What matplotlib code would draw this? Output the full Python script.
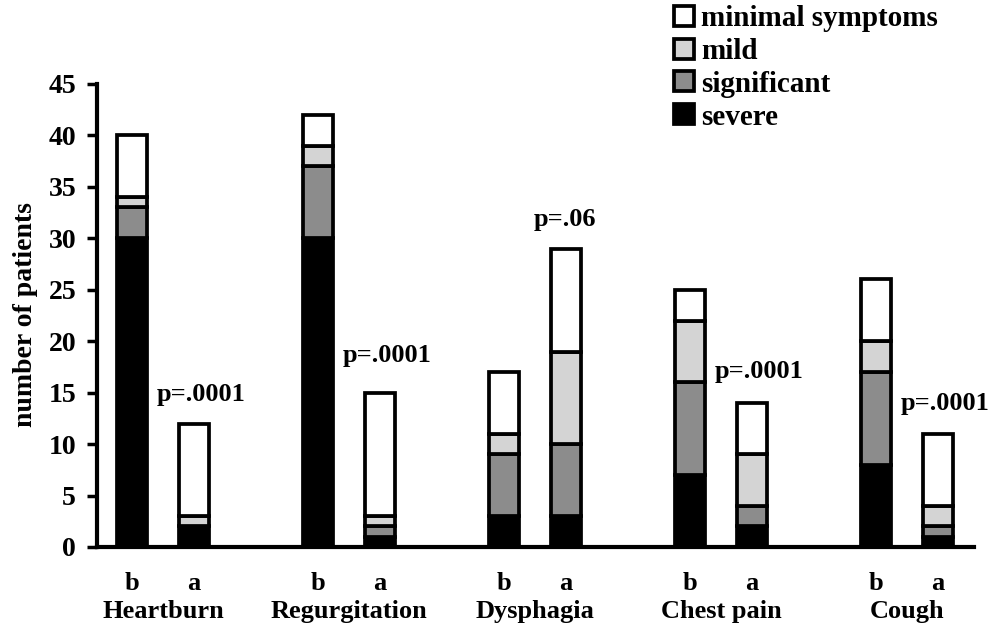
import matplotlib
matplotlib.use("Agg")
import matplotlib.pyplot as plt

plt.rcParams['font.family'] = ['Liberation Serif', 'DejaVu Serif']
plt.rcParams['font.weight'] = 'bold'

# datos (b = antes, a = despues)
grupos = ["Heartburn", "Regurgitation", "Dysphagia", "Chest pain", "Cough"]
momentos = ["b", "a"]
severe = [30, 2, 30, 1, 3, 3, 7, 2, 8, 1]
significant = [3, 0, 7, 1, 6, 7, 9, 2, 9, 1]
mild = [1, 1, 2, 1, 2, 9, 6, 5, 3, 2]
minimal = [6, 9, 3, 12, 6, 10, 3, 5, 6, 7]
p_valores = ["p=.0001", "p=.0001", "p=.06", "p=.0001", "p=.0001"]

series = [
    ("severe", severe, "black"),
    ("significant", significant, "#8c8c8c"),
    ("mild", mild, "#d4d4d4"),
    ("minimal symptoms", minimal, "white"),
]

x = []
for i in range(len(grupos)):
    x += [3 * i, 3 * i + 1]

fig = plt.figure(figsize=(9.96, 6.29), dpi=100)
ax = fig.add_axes([97 / 996, 1 - 547 / 629, 877 / 996, 463 / 629])

base = [0] * len(x)
handles = []
for nombre, vals, color in series:
    h = ax.bar(x, vals, bottom=base, width=0.47, color=color,
               edgecolor="black", linewidth=2.7, label=nombre)
    handles.append(h)
    base = [b + v for b, v in zip(base, vals)]

# valores p junto a la barra "a"
dx = [0.12, 0.12, -0.02, 0.12, 0.12]
dy = [2.2, 3.0, 2.2, 2.4, 2.3]
for i, p in enumerate(p_valores):
    ax.text(3 * i + 1 + dx[i], base[2 * i + 1] + dy[i], p, ha="center",
            va="baseline", fontsize=19, fontweight="bold")

ax.set_xlim(-0.565, 13.58)
ax.set_ylim(0, 45)
ax.set_yticks(range(0, 46, 5))
ax.set_xticks(x, momentos * len(grupos))
ax.tick_params(axis="x", length=0, pad=18, labelsize=19)
ax.tick_params(axis="y", length=7, width=2.5, pad=8, labelsize=20)
for t in ax.get_xticklabels() + ax.get_yticklabels():
    t.set_fontweight("bold")

for i, g in enumerate(grupos):
    ax.text(3 * i + 0.5, -0.14, g, transform=ax.get_xaxis_transform(),
            ha="center", va="center", fontsize=19, fontweight="bold")

ax.spines["top"].set_visible(False)
ax.spines["right"].set_visible(False)
ax.spines["left"].set_linewidth(3)
ax.spines["bottom"].set_linewidth(3)

fig.text(25 / 996, 1 - 315 / 629, "number of patients", rotation=90,
         ha="center", va="center", fontsize=20, fontweight="bold")

fig.legend(handles[::-1], [s[0] for s in series][::-1], loc="upper left",
           bbox_to_anchor=(674 / 996, 0.992), frameon=False, fontsize=21,
           handlelength=0.68, handleheight=0.68, handletextpad=0.25,
           labelspacing=0.2, borderpad=0, borderaxespad=0)

fig.savefig("out.png", dpi=100)
